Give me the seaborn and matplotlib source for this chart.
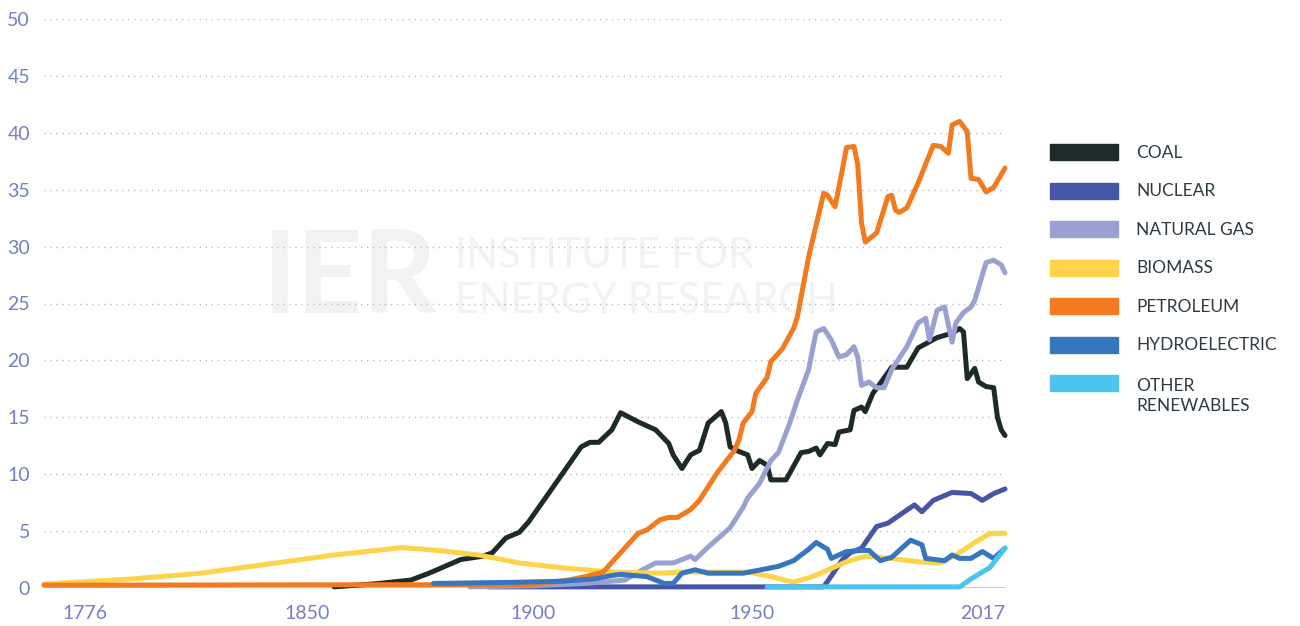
import numpy as np
import pandas as pd
import seaborn as sns
import matplotlib.pyplot as plt
from matplotlib.patches import Rectangle
import matplotlib.transforms as mtransforms

# US primary energy consumption by source (quadrillion Btu)
coal_years = [1856, 1866, 1873, 1877, 1884, 1889, 1891, 1894, 1897, 1899, 1903, 1907, 1911, 1913, 1915,
              1918, 1920, 1924, 1928, 1931, 1932, 1934, 1936, 1938, 1940, 1943, 1944, 1945, 1947, 1949,
              1950, 1952, 1954, 1955, 1959, 1963, 1965, 1967, 1968, 1970, 1972, 1973, 1976, 1977, 1979,
              1980, 1982, 1984, 1987, 1991, 1994, 1999, 2003, 2005, 2006, 2007, 2009, 2010, 2012, 2014,
              2015, 2016, 2017]
coal = [0.1, 0.4, 0.7, 1.3, 2.5, 2.8, 3.1, 4.4, 4.9, 5.8, 8.0, 10.2, 12.4, 12.8, 12.8,
        13.9, 15.4, 14.6, 13.9, 12.7, 11.7, 10.5, 11.7, 12.1, 14.5, 15.5, 14.5, 12.4, 12.0, 11.7,
        10.5, 11.2, 10.8, 9.5, 9.5, 11.9, 12.0, 12.3, 11.7, 12.7, 12.6, 13.7, 13.9, 15.6, 15.9,
        15.5, 17.1, 18.0, 19.4, 19.4, 21.1, 22.0, 22.4, 22.8, 22.5, 18.4, 19.3, 18.1, 17.7, 17.6,
        15.0, 13.9, 13.4]

nuclear_years = [1890, 1969, 1974, 1976, 1979, 1983, 1986, 1993, 1995, 1998, 2003, 2008, 2011, 2014, 2017]
nuclear = [0.1, 0.1, 2.5, 3.1, 3.5, 5.4, 5.7, 7.3, 6.7, 7.7, 8.4, 8.3, 7.7, 8.3, 8.7]

gas_years = [1886, 1900, 1912, 1921, 1925, 1928, 1932, 1936, 1937, 1940, 1945, 1948, 1949, 1952, 1955,
             1957, 1960, 1962, 1963, 1965, 1966, 1967, 1969, 1971, 1973, 1975, 1977, 1978, 1979, 1981,
             1983, 1985, 1987, 1991, 1994, 1996, 1997, 1999, 2001, 2003, 2004, 2006, 2008, 2009, 2010,
             2012, 2014, 2016, 2017]
gas = [0.1, 0.2, 0.4, 0.7, 1.6, 2.2, 2.2, 2.8, 2.5, 3.6, 5.3, 7.1, 7.9, 9.2, 11.2,
       11.9, 14.5, 16.5, 17.4, 19.2, 20.9, 22.5, 22.8, 21.8, 20.3, 20.5, 21.2, 20.3, 17.8, 18.1,
       17.6, 17.6, 19.2, 21.2, 23.3, 23.7, 21.8, 24.4, 24.7, 21.6, 23.3, 24.2, 24.7, 25.3, 26.4,
       28.6, 28.8, 28.4, 27.7]

biomass_years = [1776, 1801, 1820, 1839, 1856, 1871, 1879, 1888, 1897, 1906, 1918, 1929, 1934, 1949,
                 1955, 1961, 1966, 1975, 1980, 1987, 1994, 2000, 2004, 2009, 2013, 2017]
biomass = [0.35, 0.8, 1.3, 2.1, 2.9, 3.55, 3.3, 2.9, 2.2, 1.8, 1.4, 1.3, 1.4, 1.4,
           1.0, 0.5, 1.0, 2.3, 2.8, 2.6, 2.3, 2.2, 2.9, 4.0, 4.8, 4.8]

petroleum_years = [1776, 1900, 1908, 1912, 1916, 1920, 1924, 1926, 1929, 1931, 1933, 1936, 1938, 1942,
                   1946, 1947, 1948, 1950, 1951, 1954, 1955, 1958, 1961, 1962, 1965, 1969, 1970, 1972,
                   1974, 1975, 1977, 1978, 1979, 1980, 1983, 1986, 1987, 1988, 1989, 1991, 1994, 1998,
                   2000, 2002, 2003, 2005, 2007, 2008, 2010, 2012, 2014, 2017]
petroleum = [0.25, 0.3, 0.7, 1.0, 1.4, 3.1, 4.8, 5.1, 6.0, 6.2, 6.2, 6.9, 7.7, 10.1,
             12.1, 13.0, 14.5, 15.5, 17.1, 18.5, 19.9, 21.0, 22.8, 23.8, 29.1, 34.7, 34.5, 33.5,
             36.9, 38.7, 38.8, 37.2, 32.1, 30.4, 31.2, 34.4, 34.5, 33.2, 33.0, 33.4, 35.6, 38.9,
             38.8, 38.2, 40.7, 41.0, 40.1, 36.0, 35.9, 34.8, 35.2, 36.9]

hydro_years = [1878, 1896, 1907, 1914, 1918, 1920, 1926, 1930, 1932, 1934, 1937, 1940, 1948, 1957,
               1961, 1965, 1967, 1970, 1971, 1975, 1979, 1981, 1984, 1987, 1992, 1995, 1996, 2001,
               2003, 2005, 2008, 2011, 2014, 2017]
hydro = [0.4, 0.5, 0.6, 0.8, 1.1, 1.2, 1.0, 0.4, 0.4, 1.3, 1.6, 1.3, 1.3, 1.9,
         2.4, 3.4, 4.0, 3.4, 2.6, 3.2, 3.3, 3.3, 2.4, 2.7, 4.2, 3.8, 2.6, 2.4,
         2.9, 2.6, 2.6, 3.2, 2.6, 3.5]

other_years = [1954, 2005, 2008, 2013, 2017]
other = [0.1, 0.1, 0.8, 1.8, 3.5]

sources = ['COAL', 'NUCLEAR', 'NATURAL GAS', 'BIOMASS', 'PETROLEUM', 'HYDROELECTRIC', 'OTHER\nRENEWABLES']
colors = ['#1c2a29', '#4557a4', '#98a1d1', '#fdd34a', '#f47a20', '#3676bf', '#4cc4ec']
series = [(coal_years, coal), (nuclear_years, nuclear), (gas_years, gas), (biomass_years, biomass),
          (petroleum_years, petroleum), (hydro_years, hydro), (other_years, other)]

tick_years = [1776, 1850, 1900, 1950, 2017]
# the original axis is not linear in time: piecewise mapping between labelled years
anchor_pos = [44, 307, 533, 752, 1005]

df = pd.concat([pd.DataFrame({'year': yrs, 'value': vals, 'source': name})
                for name, (yrs, vals) in zip(sources, series)])

sns.set_style("white")
plt.rcParams['font.family'] = ['Lato', 'DejaVu Sans']

fig = plt.figure(figsize=(13, 6.26), dpi=100)
ax = fig.add_axes([44 / 1300, 38 / 626, 961 / 1300, 569 / 626])

fwd = lambda x: np.interp(x, tick_years, anchor_pos)
inv = lambda p: np.interp(p, anchor_pos, tick_years)
ax.set_xscale('function', functions=(fwd, inv))

sns.lineplot(data=df, x='year', y='value', hue='source', hue_order=sources, palette=colors,
             lw=3.6, legend=False, estimator=None, ax=ax, zorder=3)
for line in ax.lines:
    line.set_solid_joinstyle('round')
    line.set_clip_on(False)

ax.axhline(0, color='#bfbfc8', lw=1.8, zorder=2)

ax.set_xlim(1776, 2017)
ax.set_ylim(0, 50)
ax.set_yticks(range(0, 51, 5))
ax.set_xticks(tick_years)
ax.set_xticklabels([str(y) for y in tick_years])
ax.set_xlabel('')
ax.set_ylabel('')
for s in ax.spines.values():
    s.set_visible(False)
ax.yaxis.grid(True, color='#b5b5b5', lw=1.0, linestyle=(0, (0.9, 3.4)))
ax.xaxis.grid(False)
ax.set_axisbelow(True)
ax.tick_params(axis='y', length=0, pad=10, labelsize=14, labelcolor='#7380c5')
ax.tick_params(axis='x', length=0, pad=12, labelsize=14, labelcolor='#7380c5')

xt = ax.get_xticklabels()
xt[0].set_ha('left')
xt[0].set_transform(xt[0].get_transform() + mtransforms.ScaledTranslation(0.18, 0, fig.dpi_scale_trans))
xt[-1].set_ha('right')

# faint IER watermark behind the lines
ax.text(263 / 1300, 1 - 313 / 626, 'IER', transform=fig.transFigure, fontsize=83, fontweight='bold',
        color='#f1f2f4', zorder=0, va='baseline', ha='left')
ax.text(455 / 1300, 1 - 268 / 626, 'INSTITUTE FOR', transform=fig.transFigure, fontsize=30,
        color='#f1f2f4', zorder=0, va='baseline', ha='left')
ax.text(455 / 1300, 1 - 313 / 626, 'ENERGY RESEARCH', transform=fig.transFigure, fontsize=30,
        color='#f1f2f4', zorder=0, va='baseline', ha='left')

# legend on the right
for i, (name, col) in enumerate(zip(sources, colors)):
    yc = 152 + i * 38.5
    fig.add_artist(Rectangle((1050 / 1300, 1 - (yc + 8) / 626), 68 / 1300, 16 / 626,
                             transform=fig.transFigure, color=col))
    base = yc + 6 + 22 * name.count('\n')
    fig.text(1136 / 1300, 1 - base / 626, name, fontsize=12.5, color='#2e3a42',
             va='baseline', ha='left', linespacing=1.3)

fig.savefig('out.png', dpi=100)
